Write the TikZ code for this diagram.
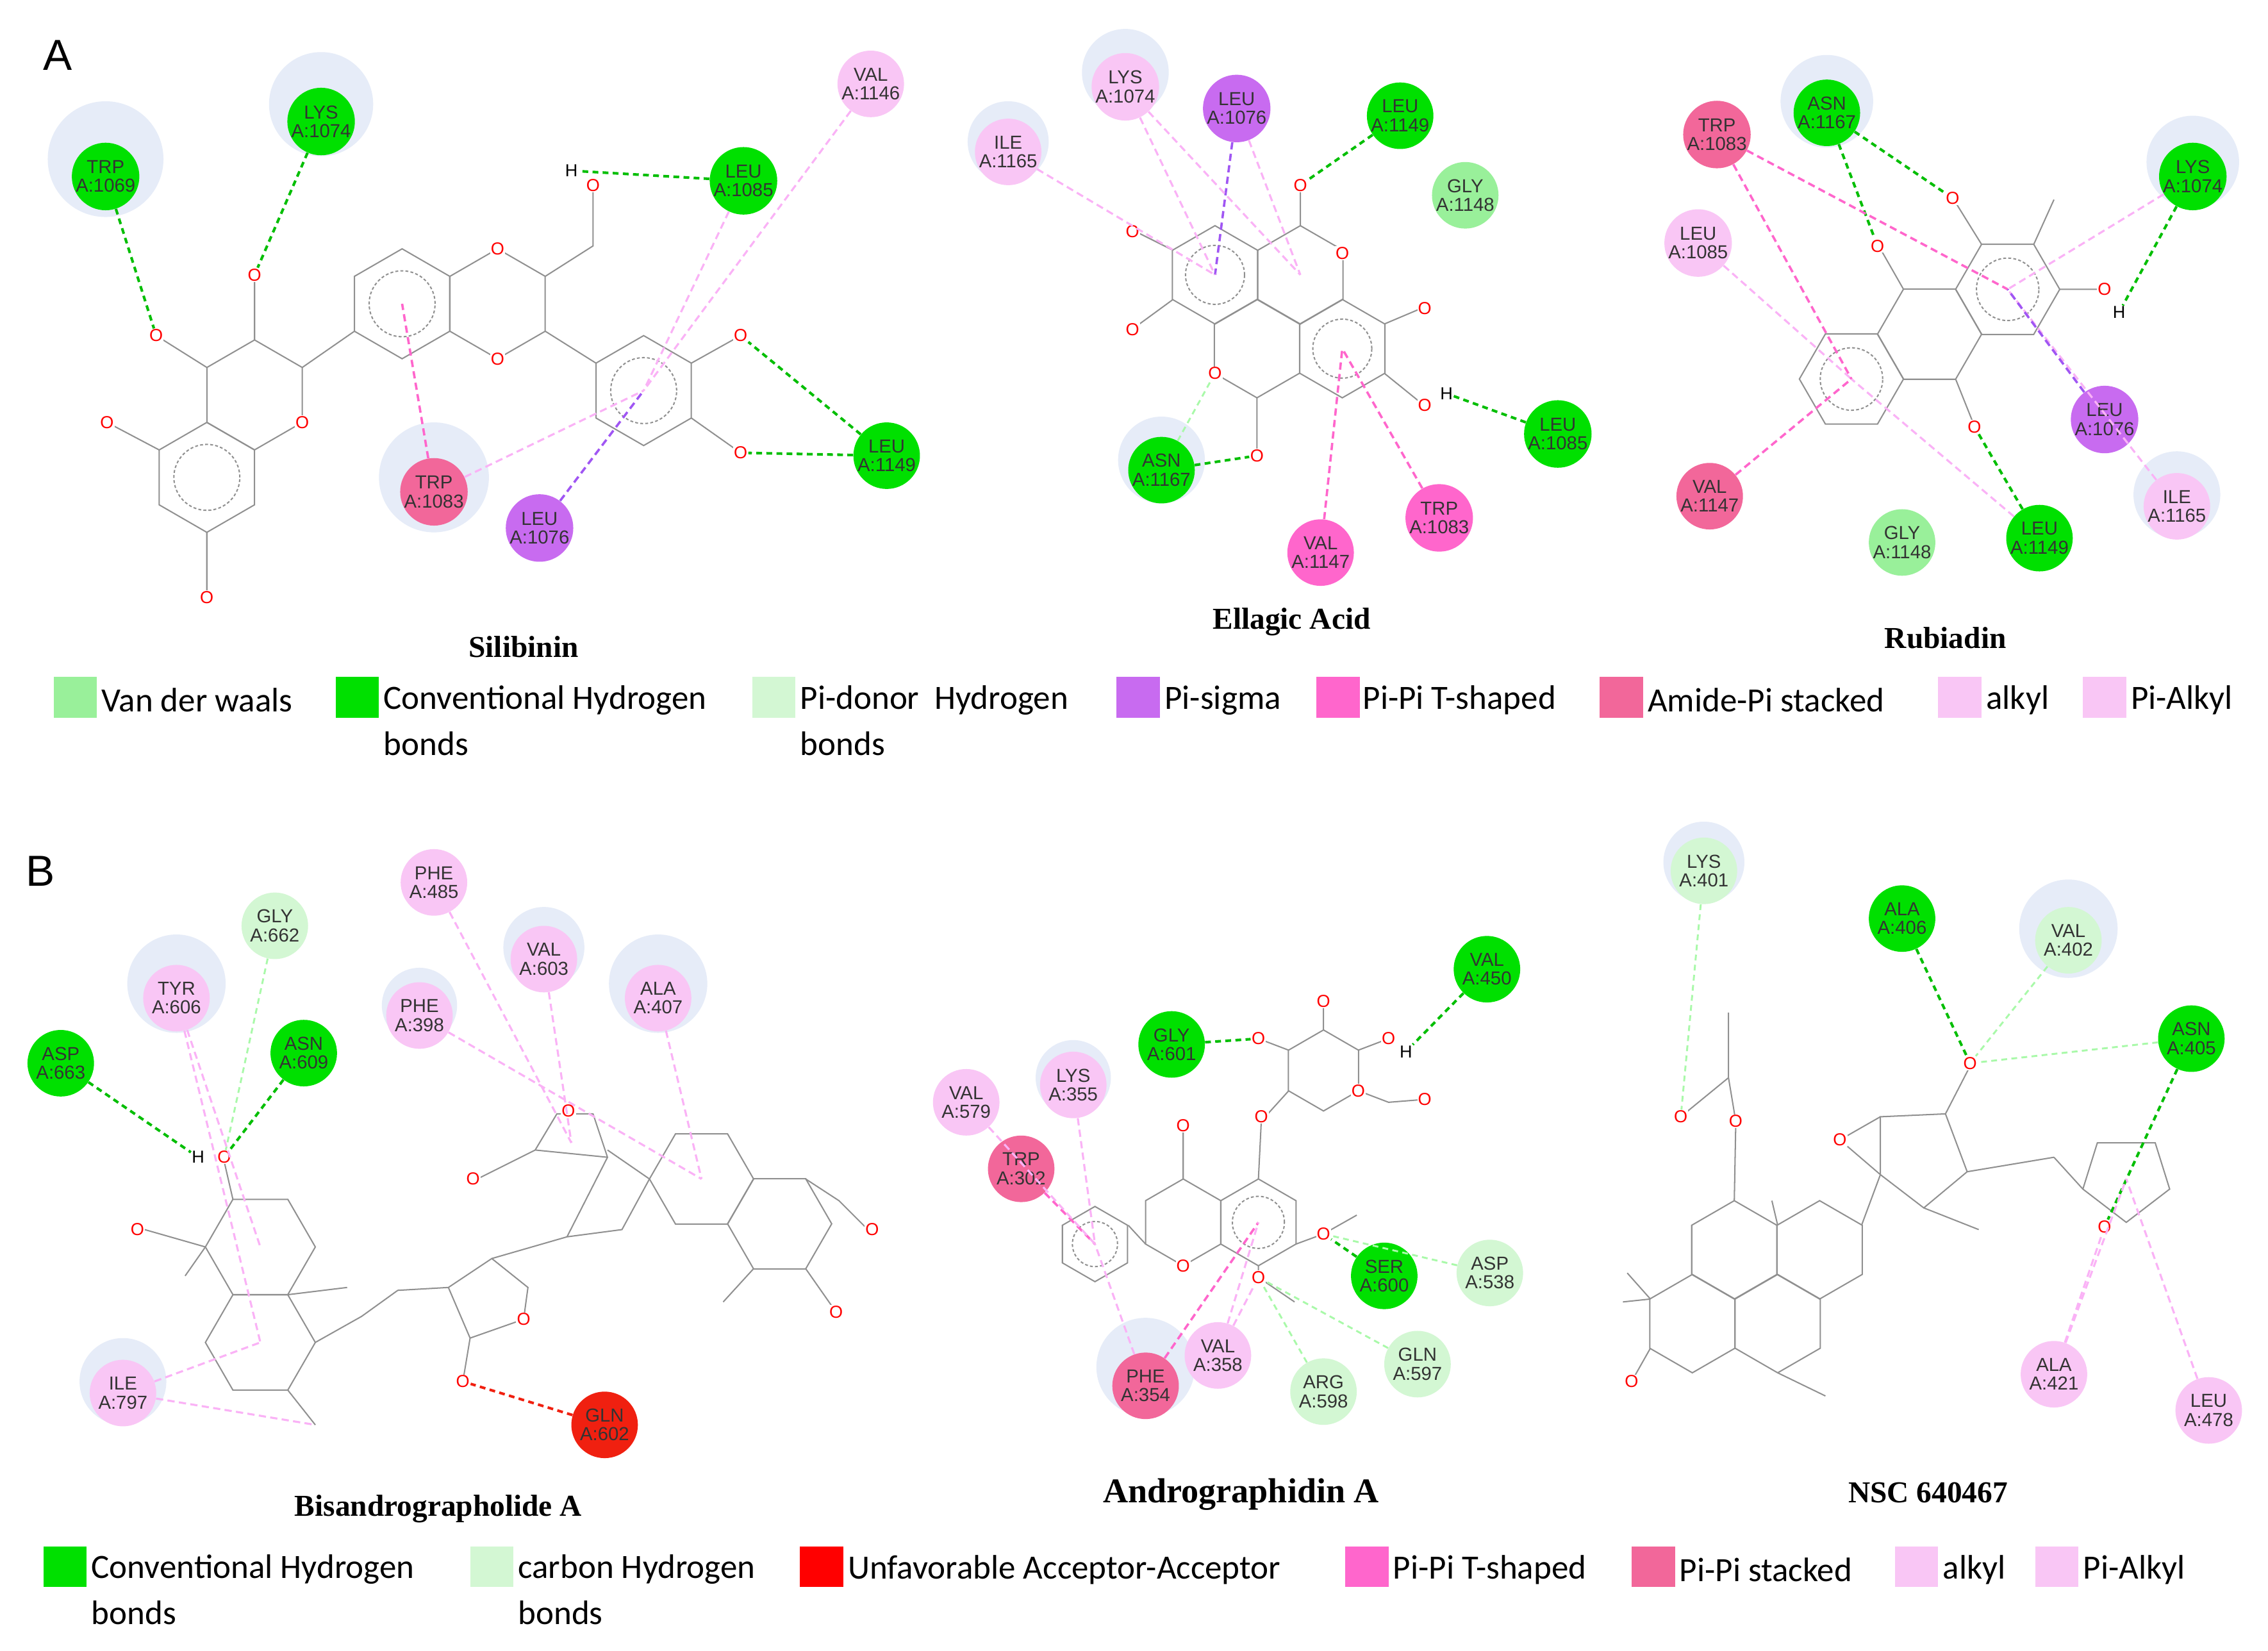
\documentclass[tikz,border=0pt]{standalone}
\usepackage{fontspec}
\setmainfont{Liberation Serif}
\newfontfamily\leg{Carlito}
\newfontfamily\rf{Liberation Sans}
\definecolor{cg}{HTML}{00E000}
\definecolor{vdw}{HTML}{99F09A}
\definecolor{chb}{HTML}{D3F7D3}
\definecolor{alk}{HTML}{F9C6F5}
\definecolor{pit}{HTML}{FF66CC}
\definecolor{amp}{HTML}{F2679A}
\definecolor{pis}{HTML}{C86BF0}
\definecolor{unf}{HTML}{F02010}
\definecolor{halo}{HTML}{E6ECF8}
\definecolor{molc}{HTML}{909090}
\newcommand\hp[3]{\draw[mol] (#1,#2) +(90:#3)--+(30:#3)--+(-30:#3)--+(-90:#3)--+(-150:#3)--+(150:#3)--cycle;}
\newcommand\hf[3]{\draw[mol] (#1,#2) +(0:#3)--+(60:#3)--+(120:#3)--+(180:#3)--+(240:#3)--+(300:#3)--cycle;}
\newcommand\ar[3]{\draw[mol,dash pattern=on 2pt off 1.5pt] (#1,#2) circle[radius=0.6*#3pt];}
\newcommand\res[5]{\node[res,fill=#4] (#1) at (#2,#3) {#5};}
\newcommand\halo[3]{\fill[halo] (#1,#2) circle[radius=#3pt];}
\newcommand\at[4][red]{\node[atom,text=#1] (#2) at (#3) {#4};}
\begin{document}
\begin{tikzpicture}[x=1pt,y=-1pt,
 mol/.style={draw=molc,line width=0.9pt},
 res/.style={circle,minimum size=46pt,inner sep=0pt,align=center,font=\rf\fontsize{13}{13}\selectfont,text=black!80},
 atom/.style={font=\rf\fontsize{12}{12}\selectfont,fill=white,inner sep=0.5pt},
 hb/.style={draw=cg!85!black,line width=1.8pt,dash pattern=on 4pt off 3pt},
 ch/.style={draw=chb!80!green,line width=1.3pt,dash pattern=on 4pt off 3pt},
 al/.style={draw=alk!90!magenta,line width=1.4pt,dash pattern=on 5pt off 3pt},
 pt/.style={draw=pit,line width=1.6pt,dash pattern=on 5pt off 3pt},
 ps/.style={draw=pis!80!blue,line width=1.6pt,dash pattern=on 5pt off 3pt},
 uf/.style={draw=unf,line width=1.8pt,dash pattern=on 4pt off 3pt},
 sw/.style={minimum width=30pt,minimum height=28pt,inner sep=0pt},
 lg/.style={font=\leg\fontsize{23.5}{28}\selectfont,anchor=west,align=left,inner sep=0pt},
 ttl/.style={font=\bfseries\fontsize{21}{21}\selectfont},
]
\useasboundingbox (0,0) rectangle (1568,1141);
\fill[white] (0,0) rectangle (1568,1141);
\node[font=\rf\fontsize{30}{30}\selectfont] (lA) at (40,38) {A};
\node[font=\rf\fontsize{30}{30}\selectfont] (lB) at (28,602) {B};
% ---------------- Silibinin
\halo{73}{110}{40}\halo{222}{72}{36}\halo{300}{330}{38}
\hp{143}{330}{38}\ar{143}{330}{38}
\hp{176}{273}{38}
\hp{278}{210}{38}\ar{278}{210}{38}
\hp{344}{210}{38}
\hp{445}{270}{38}\ar{445}{270}{38}
\draw[mol] (143,254)--(108,232) (176,235)--(176,190) (110,311)--(74,292) (143,368)--(143,413)
 (209,254)--(245,229) (377,191)--(410,170)--(410,128) (377,229)--(412,251) (478,251)--(512,232) (478,289)--(512,313);
\at{sO1}{108,232}{O}\at{sO2}{176,190}{O}\at{sO3}{74,292}{O}\at{sO4}{143,413}{O}\at{sO5}{209,292}{O}
\at{sO6}{344,172}{O}\at{sO7}{344,248}{O}\at{sO8}{410,128}{O}\at[black]{sH}{395,118}{H}\at{sO9}{512,232}{O}\at{sO10}{512,313}{O}
\coordinate (sRB) at (278,210);\coordinate (sRD) at (445,270);
\res{s1069}{73}{122}{cg}{TRP\\A:1069}
\res{s1074}{222}{84}{cg}{LYS\\A:1074}
\res{s1146}{602}{58}{alk}{VAL\\A:1146}
\res{s1085}{514}{125}{cg}{LEU\\A:1085}
\res{s1149}{613}{315}{cg}{LEU\\A:1149}
\res{s1083}{300}{340}{amp}{TRP\\A:1083}
\res{s1076}{373}{365}{pis}{LEU\\A:1076}
\draw[hb] (s1069)--(sO1); \draw[hb] (s1074)--(sO2); \draw[hb] (s1085)--(sH);
\draw[hb] (s1149)--(sO9); \draw[hb] (s1149)--(sO10);
\draw[al] (s1146)--(sRD); \draw[al] (s1085)--(sRD); \draw[al] (s1083)--(sRD);
\draw[pt] (s1083)--(sRB); \draw[ps] (s1076)--(sRD);
\node[ttl] (tS) at (362,447) {Silibinin};
% ---------------- Ellagic acid
\halo{697}{98}{28}\halo{778}{50}{30}\halo{803}{318}{30}
\hp{840}{190}{34}\ar{840}{190}{34}
\hp{899}{190}{34}
\hp{928}{241}{34}\ar{928}{241}{34}
\hp{869}{241}{34}
\draw[mol] (811,173)--(785,160) (811,207)--(785,226) (899,156)--(899,130) (957,224)--(983,213) (957,258)--(983,279) (869,275)--(869,313);
\at{eO1}{783,160}{O}\at{eO2}{783,228}{O}\at{eO3}{899,128}{O}\at{eO4}{928,175}{O}\at{eO5}{985,213}{O}
\at{eO6}{985,280}{O}\at[black]{eH}{1000,272}{H}\at{eO7}{869,315}{O}\at{eO8}{840,258}{O}
\coordinate (eR1) at (840,190);\coordinate (eR2) at (899,190);\coordinate (eR3) at (928,241);
\res{e1074}{778}{60}{alk}{LYS\\A:1074}
\res{e1076}{855}{75}{pis}{LEU\\A:1076}
\res{e1149}{968}{80}{cg}{LEU\\A:1149}
\res{e1148}{1013}{135}{vdw}{GLY\\A:1148}
\res{e1165}{697}{105}{alk}{ILE\\A:1165}
\res{e1167}{803}{325}{cg}{ASN\\A:1167}
\res{e1085}{1077}{300}{cg}{LEU\\A:1085}
\res{e1083}{995}{358}{pit}{TRP\\A:1083}
\res{e1147}{913}{382}{pit}{VAL\\A:1147}
\draw[hb] (e1149)--(eO3); \draw[hb] (e1167)--(eO7); \draw[hb] (e1085)--(eH);
\draw[ch] (e1167)--(eO8);
\draw[ps] (e1076)--(eR1); \draw[al] (e1074)--(eR1); \draw[al] (e1074)--(eR2); \draw[al] (e1165)--(eR1);\draw[al] (e1076)--(eR2);
\draw[pt] (e1147)--(eR3); \draw[pt] (e1083)--(eR3);
\node[ttl] (tE) at (893,430) {Ellagic Acid};
% ---------------- Rubiadin
\halo{1263}{70}{32}\halo{1516}{112}{32}\halo{1505}{342}{30}
\hf{1280}{262}{36}\ar{1280}{262}{36}
\hf{1334}{231}{36}
\hf{1388}{200}{36}\ar{1388}{200}{36}
\draw[mol] (1316,200)--(1300,172) (1352,262)--(1364,292) (1370,169)--(1352,140) (1406,169)--(1420,138) (1424,200)--(1452,200);
\at{rO1}{1298,170}{O}\at{rO2}{1365,295}{O}\at{rO3}{1350,137}{O}\at{rO4}{1455,200}{O}\at[black]{rH}{1465,216}{H}
\coordinate (rL) at (1280,262);\coordinate (rR) at (1388,200);
\res{r1083}{1187}{93}{amp}{TRP\\A:1083}
\res{r1167}{1263}{78}{cg}{ASN\\A:1167}
\res{r1074}{1516}{122}{cg}{LYS\\A:1074}
\res{r1085}{1174}{168}{alk}{LEU\\A:1085}
\res{r1076}{1455}{290}{pis}{LEU\\A:1076}
\res{r1165}{1505}{350}{alk}{ILE\\A:1165}
\res{r1149}{1410}{372}{cg}{LEU\\A:1149}
\res{r1148}{1315}{375}{vdw}{GLY\\A:1148}
\res{r1147}{1182}{343}{amp}{VAL\\A:1147}
\draw[hb] (r1167)--(rO3); \draw[hb] (r1167)--(rO1); \draw[hb] (r1074)--(rH); \draw[hb] (r1149)--(rO2);
\draw[al] (r1074)--(rR); \draw[al] (r1085)--(rL); \draw[al] (r1165)--(rR); \draw[al] (r1149)--(rL);
\draw[pt] (r1083)--(rL); \draw[pt] (r1083)--(rR); \draw[pt] (r1147)--(rL); \draw[ps] (r1076)--(rR);
\node[ttl] (tR) at (1345,441) {Rubiadin};
% ---------------- Legend A
\node[sw,fill=vdw] (k1) at (52,482) {};\node[lg] (k1t) at (70,484) {Van der waals};
\node[sw,fill=cg] (k2) at (247,482) {};\node[lg] (k2t) at (265,484) {Conventional Hydrogen};\node[lg] (k2u) at (265,514) {bonds};
\node[sw,fill=chb] (k3) at (535,482) {};\node[lg] (k3t) at (553,484) {Pi-donor\ \ Hydrogen};\node[lg] (k3u) at (553,514) {bonds};
\node[sw,fill=pis] (k4) at (787,482) {};\node[lg] (k4t) at (805,484) {Pi-sigma};
\node[sw,fill=pit] (k5) at (925,482) {};\node[lg] (k5t) at (942,484) {Pi-Pi T-shaped};
\node[sw,fill=amp] (k6) at (1121,482) {};\node[lg] (k6t) at (1139,484) {Amide-Pi stacked};
\node[sw,fill=alk] (k7) at (1355,482) {};\node[lg] (k7t) at (1373,484) {alkyl};
\node[sw,fill=alk] (k8) at (1455,482) {};\node[lg] (k8t) at (1473,484) {Pi-Alkyl};
% ---------------- Bisandrographolide A
\halo{122}{680}{34}\halo{85}{955}{30}\halo{455}{680}{34}\halo{376}{655}{28}\halo{290}{695}{26}
\hf{180}{862}{38}\hf{180}{928}{38}
\draw[mol] (161,829)--(155,803) (142,862)--(100,850) (142,862)--(128,882) (199,895)--(240,890) (199,961)--(218,985)
 (218,928)--(250,910)--(275,892)--(310,890)--(340,870)--(365,890)--(362,912)--(325,925)--(310,890) (325,925)--(320,955)
 (340,870)--(392,855)--(420,800)--(410,770)--(385,770)--(370,795)--(420,800) (370,795)--(330,815)
 (392,855)--(430,850)--(449,815) (449,815)--(420,795);
\hf{485}{815}{36}\hf{539}{846}{36}
\draw[mol] (557,815)--(580,830)--(600,850) (557,877)--(578,907) (521,877)--(500,900);
\at{bO1}{155,800}{O}\at[black]{bH}{137,800}{H}\at{bO2}{95,850}{O}\at{bO3}{320,955}{O}\at{bO4}{362,912}{O}
\at{bO5}{327,815}{O}\at{bO6}{393,768}{O}\at{bO7}{603,850}{O}\at{bO8}{578,907}{O}
\coordinate (bR1) at (180,862);\coordinate (bR2) at (180,928);\coordinate (bR3) at (485,815);\coordinate (bF) at (395,790);\coordinate (bX) at (218,985);
\res{b663}{42}{735}{cg}{ASP\\A:663}
\res{b606}{122}{690}{alk}{TYR\\A:606}
\res{b662}{190}{640}{chb}{GLY\\A:662}
\res{b609}{210}{728}{cg}{ASN\\A:609}
\res{b485}{300}{610}{alk}{PHE\\A:485}
\res{b398}{290}{702}{alk}{PHE\\A:398}
\res{b603}{376}{663}{alk}{VAL\\A:603}
\res{b407}{455}{690}{alk}{ALA\\A:407}
\res{b797}{85}{963}{alk}{ILE\\A:797}
\res{b602}{418}{985}{unf}{GLN\\A:602}
\draw[hb] (b663)--(bH); \draw[hb] (b609)--(bO1); \draw[ch] (b662)--(bO1);
\draw[al] (b606)--(bR1); \draw[al] (b606)--(bR2); \draw[al] (b797)--(bR2); \draw[al] (b797)--(bX);
\draw[al] (b485)--(bF); \draw[al] (b603)--(bF); \draw[al] (b398)--(bR3); \draw[al] (b407)--(bR3);
\draw[uf] (b602)--(bO3);
\node[ttl] (tB) at (303,1043) {Bisandrographolide A};
% ---------------- Andrographidin A
\halo{792}{945}{34}\halo{742}{745}{26}
\hp{757}{860}{26}\ar{757}{860}{26}
\hp{818}{845}{30}\hp{870}{845}{30}\ar{870}{845}{30}
\hp{915}{740}{28}
\draw[mol] (780,847)--(792,860) (818,815)--(818,780) (870,815)--(872,775)--(891,754) (891,726)--(870,718) (915,712)--(915,692)
 (939,726)--(960,718) (939,754)--(960,762)--(985,760) (896,860)--(915,853)--(938,840) (870,875)--(870,883)--(895,900);
\at{aO1}{818,778}{O}\at{aO2}{818,875}{O}\at{aO3}{872,772}{O}\at{aO4}{870,718}{O}\at{aO5}{915,692}{O}
\at{aO6}{960,718}{O}\at[black]{aH}{972,727}{H}\at{aO7}{939,754}{O}\at{aO8}{985,760}{O}\at{aO9}{915,853}{O}\at{aO10}{870,883}{O}
\coordinate (aPh) at (757,860);\coordinate (aRA) at (870,845);
\res{a601}{810}{722}{cg}{GLY\\A:601}
\res{a450}{1028}{670}{cg}{VAL\\A:450}
\res{a579}{668}{762}{alk}{VAL\\A:579}
\res{a355}{742}{750}{alk}{LYS\\A:355}
\res{a302}{706}{808}{amp}{TRP\\A:302}
\res{a600}{957}{882}{cg}{SER\\A:600}
\res{a538}{1030}{880}{chb}{ASP\\A:538}
\res{a358}{842}{937}{alk}{VAL\\A:358}
\res{a354}{792}{958}{amp}{PHE\\A:354}
\res{a598}{915}{962}{chb}{ARG\\A:598}
\res{a597}{980}{943}{chb}{GLN\\A:597}
\draw[hb] (a601)--(aO4); \draw[hb] (a450)--(aH); \draw[hb] (a600)--(aO9);
\draw[ch] (a538)--(aO9); \draw[ch] (a598)--(aO10); \draw[ch] (a597)--(aO10);
\draw[pt] (a302)--(aPh); \draw[al] (a579)--(aPh); \draw[al] (a355)--(aPh); \draw[al] (a354)--(aPh);
\draw[pt] (a354)--(aRA); \draw[al] (a358)--(aRA); \draw[al] (a358)--(aO10);
\node[ttl,font=\bfseries\fontsize{24}{24}\selectfont] (tA) at (858,1033) {Andrographidin A};
% ---------------- NSC 640467
\halo{1430}{642}{34}\halo{1178}{596}{28}
\hp{1170}{915}{34}\hp{1199}{864}{34}\hp{1258}{864}{34}\hp{1229}{915}{34}
\draw[mol] (1199,830)--(1200,778) (1195,745)--(1162,772) (1195,745)--(1195,700)
 (1141,932)--(1128,955) (1141,898)--(1125,880) (1141,898)--(1122,900) (1229,847)--(1225,830) (1229,949)--(1262,965)
 (1287,847)--(1300,812)--(1330,835)--(1360,810)--(1345,770)--(1300,772)--(1300,812) (1300,772)--(1272,788)--(1300,812)
 (1345,770)--(1362,737) (1360,810)--(1420,800) (1330,835)--(1368,850);
\draw[mol] (1200,775)--(1195,745);
\draw[mol] (1450,790)--(1490,790)--(1500,822)--(1470,845)--(1440,822)--cycle (1420,800)--(1440,822);
\at{nO1}{1200,775}{O}\at{nO2}{1162,772}{O}\at{nO3}{1128,955}{O}\at{nO4}{1362,735}{O}\at{nO5}{1272,788}{O}\at{nO6}{1455,848}{O}
\coordinate (nF) at (1470,815);
\res{n401}{1178}{602}{chb}{LYS\\A:401}
\res{n406}{1315}{635}{cg}{ALA\\A:406}
\res{n402}{1430}{650}{chb}{VAL\\A:402}
\res{n405}{1515}{718}{cg}{ASN\\A:405}
\res{n421}{1420}{950}{alk}{ALA\\A:421}
\res{n478}{1527}{975}{alk}{LEU\\A:478}
\draw[hb] (n406)--(nO4); \draw[hb] (n405)--(nO6);
\draw[ch] (n401)--(nO2); \draw[ch] (n402)--(nO4); \draw[ch] (n405)--(nO4);
\draw[al] (n421)--(nF); \draw[al] (n478)--(nF); \draw[al] (n421)--(nO6);
\node[ttl] (tN) at (1333,1032) {NSC 640467};
% ---------------- Legend B
\node[sw,fill=cg] (m1) at (45,1083) {};\node[lg] (m1t) at (63,1085) {Conventional Hydrogen};\node[lg] (m1u) at (63,1115) {bonds};
\node[sw,fill=chb] (m2) at (340,1083) {};\node[lg] (m2t) at (358,1085) {carbon\ Hydrogen};\node[lg] (m2u) at (358,1115) {bonds};
\node[sw,fill=red] (m3) at (568,1083) {};\node[lg] (m3t) at (586,1085) {Unfavorable Acceptor-Acceptor};
\node[sw,fill=pit] (m4) at (945,1083) {};\node[lg] (m4t) at (963,1085) {Pi-Pi T-shaped};
\node[sw,fill=amp] (m5) at (1143,1083) {};\node[lg] (m5t) at (1161,1085) {Pi-Pi stacked};
\node[sw,fill=alk] (m6) at (1325,1083) {};\node[lg] (m6t) at (1343,1085) {alkyl};
\node[sw,fill=alk] (m7) at (1422,1083) {};\node[lg] (m7t) at (1440,1085) {Pi-Alkyl};
\end{tikzpicture}
\end{document}
